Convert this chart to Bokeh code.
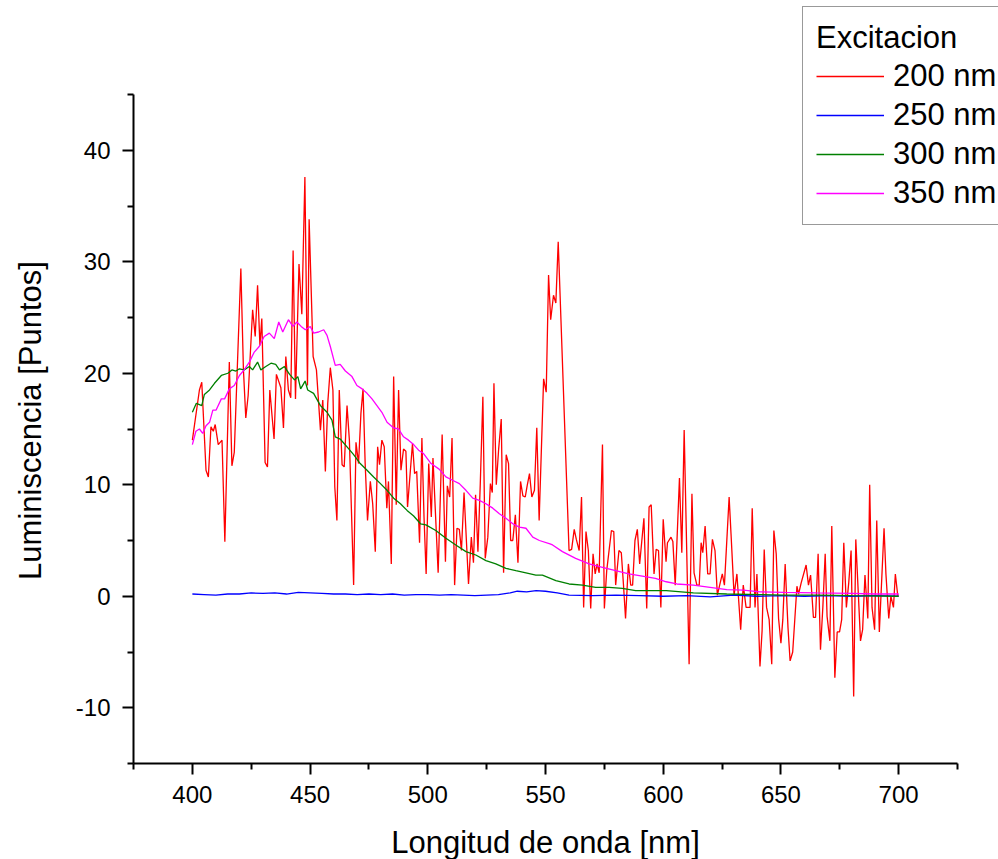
import math
from bokeh.plotting import figure
from bokeh.models import Range1d, FixedTicker, Legend, LegendItem, Label
from bokeh.embed import file_html
from bokeh.resources import INLINE

# ---------------- data ----------------
series_names = ["200 nm", "250 nm", "300 nm", "350 nm"]
legend_title = "Excitacion"
x_title = "Longitud de onda [nm]"
y_title = "Luminiscencia [Puntos]"

x_ticks = [400, 450, 500, 550, 600, 650, 700]
x_minor = [375, 425, 475, 525, 575, 625, 675, 725]
y_ticks = [-10, 0, 10, 20, 30, 40]
y_minor = [-15, -5, 5, 15, 25, 35, 45]
x_axis_span = (375, 725)
y_axis_span = (-15, 45)

red_x = [400.0, 403.0, 404.0, 405.8, 406.8, 407.9, 408.9, 409.7, 411.0, 412.6, 413.8, 415.7, 416.8, 417.8,
         420.6, 421.7, 422.7, 423.7, 425.6, 426.7, 427.7, 428.7, 429.5, 430.9, 431.9, 432.9, 434.7, 435.7,
         437.6, 438.7, 439.7, 440.8, 441.8, 442.8, 443.8, 445.3, 446.5, 447.8, 448.9, 449.6, 451.3,
         452.7, 454.4, 455.4, 456.5, 457.5, 458.6, 459.7, 460.5, 461.4, 462.4, 463.6, 464.5, 465.7, 466.7,
         468.5, 469.5, 470.6, 471.6, 472.5, 473.4, 474.4, 475.6, 476.6, 477.7, 478.7, 479.5, 480.5, 481.5,
         482.6, 483.3, 484.5, 485.5, 486.6, 487.6, 488.6, 489.7, 490.7, 491.4, 492.5, 493.5, 494.4, 495.3,
         496.5, 497.5, 498.4, 499.3,
         500.4, 501.5, 502.2, 504.4, 506.1, 507.5, 508.3, 509.3, 510.3, 511.4, 512.4, 513.4, 514.3, 515.4,
         516.4, 517.3, 518.5, 519.4, 520.3, 521.3, 522.3, 523.4, 524.4, 525.5, 526.6, 527.4, 528.1, 529.1,
         530.1, 531.2, 532.2, 533.3, 534.3, 535.2, 536.1, 537.2, 538.3, 539.4, 540.4, 541.4, 542.2, 543.2,
         544.2, 545.3, 546.3, 547.3, 549.2, 550.3, 551.3,
         552.2, 553.4, 554.4, 555.4, 560.0, 561.1, 562.2, 563.1, 564.3, 565.3, 566.2, 567.2, 568.2, 569.2,
         570.2, 571.1, 571.9, 572.8, 574.2, 575.0, 576.0, 578.0, 579.0, 579.8, 581.2, 582.2, 583.1, 584.0,
         585.2, 586.2, 587.0, 588.0, 589.0, 590.0, 591.8, 593.0, 594.0, 594.9, 596.1, 597.0, 598.0, 599.0,
         600.0, 601.2,
         601.8, 603.3, 604.1, 605.1, 606.9, 607.9, 608.9, 611.0, 612.2, 613.1, 614.3, 615.3, 616.1, 616.8,
         617.8, 618.9, 619.9, 620.9, 622.0, 623.0, 624.2, 625.1, 626.0, 628.0, 628.8, 630.1, 631.3, 632.9,
         634.0, 635.2, 636.9, 637.8, 639.0, 639.8, 641.1, 642.0, 642.9, 643.9, 645.0, 646.1, 647.0, 648.0,
         649.0, 650.0, 650.8, 651.8, 653.0, 653.9, 655.0, 656.8, 657.5, 658.6, 660.7, 661.7, 662.6, 663.8,
         664.7, 665.8, 666.8, 667.8, 668.8, 669.6, 670.8, 671.6, 672.9, 673.9, 674.9, 675.8, 676.7, 677.8,
         678.8, 679.8, 680.9, 681.8, 682.9, 683.8, 684.7, 685.7, 686.9, 687.7, 688.7, 689.8, 690.7, 691.8,
         693.8, 694.6, 695.8, 696.7, 697.8, 698.6, 699.6, 700.0]
red_y = [14.0, 18.5, 19.2, 11.3, 10.7, 15.2, 14.8, 15.4, 13.6, 14.0, 4.9, 21.0, 11.7, 12.9,
         29.4, 20.3, 16.0, 18.0, 25.7, 23.3, 27.9, 22.5, 24.9, 12.0, 11.6, 18.5, 14.1, 19.9,
         18.7, 15.1, 21.5, 18.5, 17.8, 31.0, 17.7, 29.8, 25.3, 37.6, 18.9, 33.8, 21.5,
         20.3, 14.9, 17.6, 11.2, 17.3, 20.5, 18.5, 9.8, 6.8, 18.5, 11.8, 11.6, 17.1, 14.0,
         1.0, 13.8, 11.9, 16.4, 18.6, 11.9, 6.8, 10.3, 8.3, 4.0, 13.4, 11.8, 14.0, 13.4,
         7.9, 10.3, 2.9, 19.7, 8.2, 18.5, 11.3, 13.2, 13.0, 8.0, 11.0, 13.7, 11.0, 11.2,
         4.8, 14.2, 7.1, 2.0,
         11.9, 7.1, 12.4, 2.1, 14.5, 3.1, 9.9, 8.9, 14.2, 1.0, 6.1, 6.0, 4.1, 9.3,
         5.0, 1.1, 5.3, 3.0, 9.1, 4.0, 10.1, 17.9, 3.4, 5.3, 10.1, 9.3, 19.1, 10.0,
         13.2, 15.9, 2.1, 12.7, 11.9, 5.0, 5.0, 7.3, 3.0, 10.3, 9.0, 8.9, 9.9, 11.0,
         8.9, 9.5, 15.1, 6.8, 19.5, 18.3, 28.8,
         24.8, 27.0, 26.3, 31.8, 4.1, 4.2, 6.0, 5.1, 4.1, 8.9, -1.0, 5.8, 4.1, -1.1,
         3.8, 2.0, 2.9, 2.1, 13.6, -1.1, 2.3, 5.9, 5.8, 1.0, 4.1, 3.9, 1.1, -2.0,
         2.9, 1.0, 1.0, 5.0, 6.0, 2.9, 7.0, -1.1, 8.0, 8.2, 2.0, 4.2, 4.1, -1.0,
         6.9, 3.1,
         4.8, 5.3, 4.9, 1.0, 10.6, 3.9, 14.9, -6.1, 9.2, 2.1, 1.0, 1.0, 4.8, 3.9,
         6.3, 2.0, 2.0, 5.1, 4.1, 0.1, 1.2, 2.0, 1.0, 8.9, 5.6, 0.1, 2.0, -3.0,
         1.0, -1.0, -1.0, 7.9, -1.0, 2.0, -6.3, -3.1, 4.2, -1.0, -2.1, -6.1, 5.9, 3.8,
         -2.0, -4.2, -2.1, 2.9, -2.8, -5.8, -5.0, 0.9, 0.2, 1.2, 2.8, 1.0, 1.9, -1.9,
         -1.9, 3.8, -4.8, -1.0, 3.8, -1.8, -4.0, 6.3, -7.3, -3.2, -3.2, -2.1, 4.8, -1.0,
         1.2, 4.1, -9.0, 5.1, 0.1, -4.0, -3.0, 1.9, -2.0, 10.0, -1.0, -3.0, 6.8, -3.2,
         6.1, 2.0, -2.0, 0.0, -1.0, 2.0, 0.1, 0.1]

blue_x = [400, 405, 410, 415, 420, 425, 430, 435, 440, 445, 450, 455, 460, 465, 470, 475, 480, 485, 490,
          495, 500, 505, 510, 515, 520, 525, 530, 535, 538, 542, 546, 550, 555, 560, 570, 580, 590, 600,
          610, 620, 630, 640, 650, 660, 670, 680, 690, 700]
blue_y = [0.2, 0.15, 0.1, 0.2, 0.2, 0.3, 0.25, 0.3, 0.2, 0.35, 0.3, 0.25, 0.2, 0.2, 0.15, 0.2, 0.15, 0.2,
          0.1, 0.15, 0.15, 0.1, 0.15, 0.1, 0.05, 0.1, 0.15, 0.3, 0.45, 0.4, 0.5, 0.45, 0.3, 0.1, 0.05, 0.1,
          0.05, 0.0, 0.05, -0.05, 0.1, 0.0, 0.05, 0.0, 0.05, 0.0, 0.05, 0.0]

green_x = [400, 401.7, 404, 405.1, 407.3, 409.4, 412.3, 415.1, 416.8, 418.5, 420, 422, 424.2, 425.6, 427.7,
           429.1, 431.2, 433.4, 435.4, 437, 439.1, 441.3, 443.4, 444.8, 446, 447.9, 449, 451.5, 454.4,
           457.2, 459.3, 460.7, 462.8, 465.7, 468.5, 471.3, 474.2, 477, 479.9, 482.7, 485.5, 488.4, 491.2,
           494, 496.9, 499.2, 503.4, 507.7, 511.9, 516.2, 520.4, 524.7, 528.9, 533.2, 537.4, 541.7, 545.9,
           548.7, 554.4, 560, 565.7, 571.3, 577, 582.6, 588.3, 594, 601.3, 612.8, 627, 641, 651.2, 665,
           680, 700]
green_y = [16.5, 17.3, 17.1, 18.1, 18.5, 19.1, 19.8, 20.0, 20.3, 20.2, 20.4, 20.3, 20.6, 20.3, 21.0,
           20.3, 20.6, 20.9, 20.8, 20.3, 20.6, 19.9, 19.4, 19.7, 18.6, 19.3, 18.5, 18.2, 17.1,
           16.5, 15.8, 14.3, 14.1, 13.4, 12.7, 11.9, 11.3, 10.7, 10.1, 9.5, 8.8, 8.3, 7.7,
           7.2, 6.5, 6.4, 5.9, 5.2, 4.6, 4.0, 3.7, 3.2, 2.9, 2.5, 2.3, 2.1, 1.9,
           1.9, 1.4, 1.1, 1.0, 0.8, 0.8, 0.7, 0.5, 0.5, 0.5, 0.3, 0.2, 0.15, 0.1, 0.1,
           0.05, 0.0]

magenta_x = [400, 401.5, 403, 404.4, 405.8, 407.3, 408.7, 410.1, 412.3, 413.7, 415.7, 417.8, 420, 422,
             424.2, 426.3, 428.4, 430.5, 432.7, 434.8, 436.7, 438.4, 440.8, 442.7, 444.4, 446.2, 448.0,
             450.1, 451.5, 453.6, 455.8, 457.2, 458.6, 460.7, 462.8, 465, 467.8, 469.9, 472.1, 474.2,
             476.3, 478.4, 480.5, 482.7, 485.5, 487.6, 489.7, 491.8, 494, 496.1, 498.2, 501.4, 504.8,
             507.7, 510.5, 513.4, 516.2, 519.1, 521.9, 524.7, 527.6, 530.4, 533.2, 536.1, 538.9, 541.7,
             544.6, 547.4, 551.9, 553, 557.2, 562.8, 568.5, 574.2, 579.8, 585.4, 591.1, 596.7, 601.3,
             605.8, 612.8, 619.9, 627, 634, 641.1, 651.2, 665, 680, 690, 700]
magenta_y = [13.6, 14.8, 15.0, 14.6, 15.3, 15.6, 16.7, 16.7, 17.7, 17.7, 18.6, 18.9, 19.8, 20.3,
             21.0, 21.9, 22.4, 23.3, 23.6, 23.1, 24.6, 23.7, 24.8, 24.2, 24.6, 24.2, 23.9,
             24.2, 23.6, 23.7, 23.9, 23.4, 22.4, 20.7, 20.8, 20.2, 19.7, 18.9, 18.6, 18.2,
             17.7, 17.1, 16.5, 15.6, 15.1, 15.0, 14.3, 14.0, 13.6, 13.1, 12.8, 11.9, 11.4,
             10.7, 10.4, 10.1, 9.5, 8.8, 8.6, 8.3, 7.9, 7.4, 7.0, 6.5, 6.2, 6.1,
             5.3, 5.0, 4.7, 4.6, 4.0, 3.4, 2.9, 2.6, 2.3, 2.0, 1.8, 1.6, 1.3,
             1.1, 1.0, 0.8, 0.6, 0.55, 0.4, 0.35, 0.3, 0.25, 0.2, 0.2]

colors = ["#FF0000", "#0000FF", "#008000", "#FF00FF"]

# ---------------- figure ----------------
FONT = "Liberation Sans"
W, H = 998, 859
AX_LEFT, AX_BOTTOM = 133, 763          # pixel position of the axis corner
px_per_x = 824 / 350.0
px_per_y = 669 / 60.0
# the frame fills the whole canvas; the axes are pinned at x=375 / y=-15
x0 = x_axis_span[0] - AX_LEFT / px_per_x
x1 = x_axis_span[0] + (W - AX_LEFT) / px_per_x
y0 = y_axis_span[0] - (H - AX_BOTTOM) / px_per_y
y1 = y_axis_span[0] + AX_BOTTOM / px_per_y

p = figure(width=W, height=H, x_range=Range1d(x0, x1), y_range=Range1d(y0, y1),
           output_backend="svg", toolbar_location=None,
           min_border_left=0, min_border_right=0, min_border_top=0, min_border_bottom=0)
p.title.visible = False
p.background_fill_color = "white"
p.border_fill_color = "white"
p.outline_line_color = None
p.xgrid.visible = False
p.ygrid.visible = False

p.xaxis.ticker = FixedTicker(ticks=x_ticks, minor_ticks=x_minor)
p.yaxis.ticker = FixedTicker(ticks=y_ticks, minor_ticks=y_minor)
p.xaxis.bounds = x_axis_span
p.yaxis.bounds = y_axis_span
p.xaxis.fixed_location = y_axis_span[0]
p.yaxis.fixed_location = x_axis_span[0]
p.yaxis.major_label_overrides = {t: str(t) for t in y_ticks}

for ax in (p.xaxis[0], p.yaxis[0]):
    ax.axis_line_width = 2
    ax.axis_line_color = "black"
    ax.major_tick_line_width = 2
    ax.minor_tick_line_width = 2
    ax.major_tick_line_color = "black"
    ax.minor_tick_line_color = "black"
    ax.major_tick_in = 0
    ax.major_tick_out = 11
    ax.minor_tick_in = 0
    ax.minor_tick_out = 6
    ax.major_label_text_font = FONT
    ax.major_label_text_font_size = "24px"
    ax.major_label_text_color = "black"

p.xaxis.major_label_standoff = 11
p.yaxis.major_label_standoff = 12

# axis titles (screen units, measured from the bottom-left of the canvas)
p.add_layout(Label(x=545, y=H - 842, x_units="screen", y_units="screen", text=x_title,
                   text_align="center", text_baseline="middle", text_font=FONT,
                   text_font_size="31px", text_color="black"))
p.add_layout(Label(x=30, y=H - 420, x_units="screen", y_units="screen", text=y_title,
                   angle=math.pi / 2, text_align="center", text_baseline="middle", text_font=FONT,
                   text_font_size="31px", text_color="black"))

xs = [red_x, blue_x, green_x, magenta_x]
ys = [red_y, blue_y, green_y, magenta_y]
renderers = []
for x, y, c in zip(xs, ys, colors):
    renderers.append(p.line(x, y, line_color=c, line_width=1.3))

legend = Legend(items=[LegendItem(label=n, renderers=[r]) for n, r in zip(series_names, renderers)],
                title=legend_title, location=(802, H - 225))
legend.border_line_color = "#333333"
legend.border_line_width = 1
legend.background_fill_color = "white"
legend.background_fill_alpha = 1.0
legend.label_text_font = FONT
legend.label_text_font_size = "31px"
legend.label_text_color = "black"
legend.title_text_font = FONT
legend.title_text_font_size = "31px"
legend.title_text_font_style = "normal"
legend.title_text_color = "black"
legend.glyph_width = 68
legend.glyph_height = 30
legend.label_standoff = 9
legend.padding = 13
legend.spacing = 3
legend.margin = 0
legend.title_standoff = 2
p.add_layout(legend, "center")

open("out.html", "w").write(file_html(p, INLINE))
